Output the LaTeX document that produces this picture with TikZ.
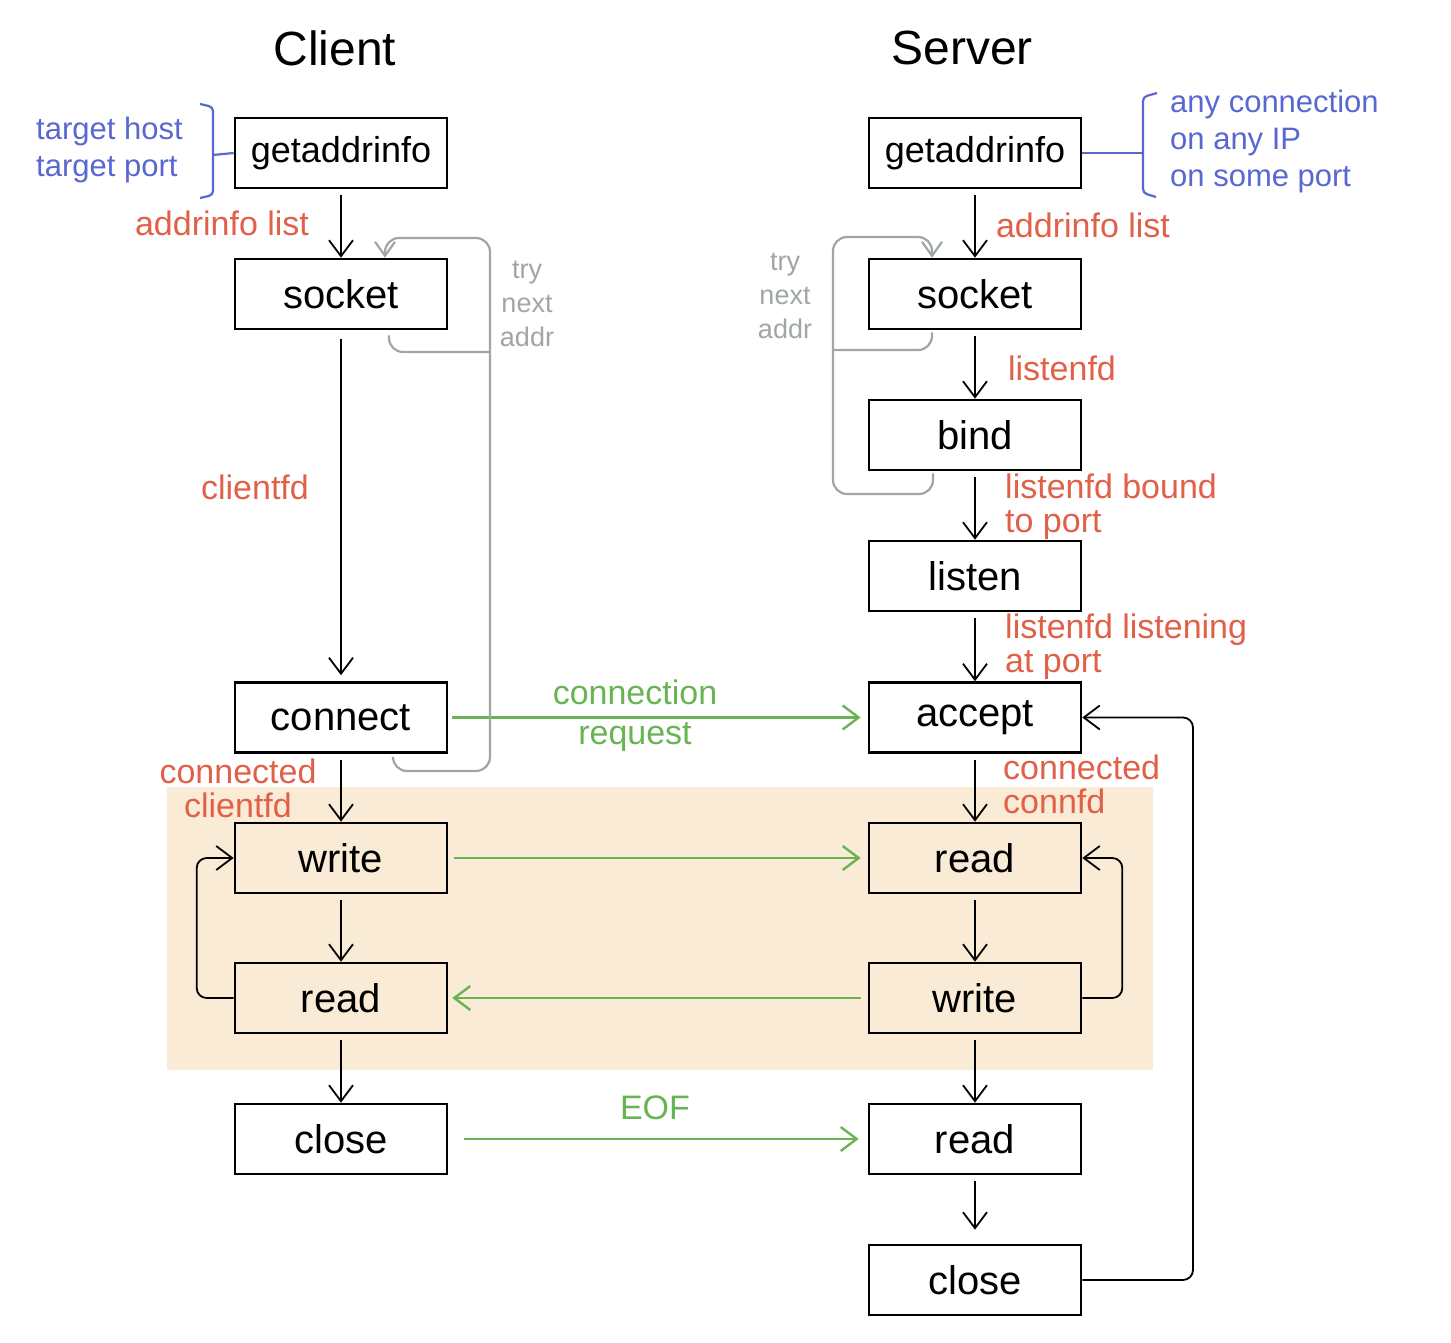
\documentclass[tikz,border=0pt]{standalone}
\usepackage{fontspec}
\setmainfont{Liberation Sans}
\usetikzlibrary{arrows.meta}
\definecolor{hred}{RGB}{224,96,72}
\definecolor{hblue}{RGB}{88,104,208}
\definecolor{hgreen}{RGB}{104,180,84}
\definecolor{hgray}{RGB}{160,165,168}
\definecolor{peach}{RGB}{250,235,214}
\begin{document}
\begin{tikzpicture}[x=1pt,y=-1pt,
  fbox/.style={draw=black, line width=2.6pt, minimum width=212pt, minimum height=70pt, inner sep=0pt, font=\fontsize{40}{40}\selectfont},
  tip/.style={-{Straight Barb[length=16pt,width=24pt,line width=1.8pt]}},
  arr/.style={draw=black, line width=1.8pt, tip, shorten <=6pt},
  loop/.style={draw=black, line width=1.8pt, tip, rounded corners=10pt},
  garr/.style={draw=hgreen, line width=2.4pt, -{Straight Barb[length=16pt,width=24pt,line width=2.4pt]}},
  grayloop/.style={draw=hgray, line width=2.2pt, rounded corners=14pt},
  title/.style={font=\fontsize{48}{48}\selectfont},
  redlab/.style={text=hred, font=\fontsize{34}{34}\selectfont, inner sep=0pt},
  bluelab/.style={text=hblue, font=\fontsize{31}{37}\selectfont, inner sep=0pt, align=left},
  graylab/.style={text=hgray, font=\fontsize{27}{34}\selectfont, inner sep=0pt, align=center},
  greenlab/.style={text=hgreen, font=\fontsize{34}{34}\selectfont, inner sep=0pt, align=center},
  bracket/.style={draw=hblue, line width=2.2pt, rounded corners=4pt}
]
\useasboundingbox (0,0) rectangle (1451,1343);
\fill[peach] (167,787) rectangle (1153,1070);

% titles
\node[title] (tclient) at (335,48) {Client};
\node[title] (tserver) at (962,48) {Server};

% client boxes
\node[fbox, font=\fontsize{36}{36}\selectfont] (cga) at (341,153) {getaddrinfo};
\node[fbox] (cso) at (341,294) {socket};
\node[fbox] (ccon) at (341,717.5) {connect};
\node[fbox] (cwr) at (341,858) {write};
\node[fbox] (crd) at (341,998) {read};
\node[fbox] (ccl) at (341,1139) {close};

% server boxes
\node[fbox, font=\fontsize{36}{36}\selectfont] (sga) at (975,153) {getaddrinfo};
\node[fbox] (sso) at (975,294) {socket};
\node[fbox] (sbind) at (975,435) {bind};
\node[fbox] (slis) at (975,576) {listen};
\node[fbox] (sacc) at (975,717.5) {accept};
\node[fbox] (srd) at (975,858) {read};
\node[fbox] (swr) at (975,998) {write};
\node[fbox] (srd2) at (975,1139) {read};
\node[fbox] (scl) at (975,1280) {close};

% client vertical arrows
\draw[arr] (cga) -- (cso);
\draw[arr, shorten <=9pt, shorten >=6pt] (cso) -- (ccon);
\draw[arr] (ccon) -- (cwr);
\draw[arr] (cwr) -- (crd);
\draw[arr] (crd) -- (ccl);

% server vertical arrows
\draw[arr] (sga) -- (sso);
\draw[arr] (sso) -- (sbind);
\draw[arr] (sbind) -- (slis);
\draw[arr] (slis) -- (sacc);
\draw[arr] (sacc) -- (srd);
\draw[arr] (srd) -- (swr);
\draw[arr] (swr) -- (srd2);
\draw[arr, shorten >=14pt] (srd2) -- (scl);

% loops
\draw[loop] (crd.west) -- ++(-37,0) |- (cwr.west);
\draw[loop] (swr.east) -- ++(40,0) |- (srd.east);
\coordinate (rloop) at (1193,717.5);
\draw[loop] (scl.east) -| (rloop) -- (sacc.east);

% green arrows
\draw[garr, shorten <=4pt, shorten >=7pt] (ccon) -- (sacc);
\draw[garr, shorten <=6pt, shorten >=7pt] (cwr) -- (srd);
\draw[garr, shorten <=7pt, shorten >=4pt] (swr) -- (crd);
\draw[garr, shorten <=16pt, shorten >=9pt] (ccl) -- (srd2);
\node[greenlab, font=\fontsize{34}{40}\selectfont] (lconn) at (635,716) {connection\\request};
\node[greenlab] (leof) at (655,1108) {EOF};

% gray try-next-addr loops (client)
\coordinate (cg1) at (490,352);
\coordinate (cg2) at (490,771);
\coordinate (cg3) at (490,238);
\draw[grayloop] ([xshift=48pt,yshift=-5pt]cso.south) |- (cg1);
\draw[grayloop, -{Straight Barb[length=14pt,width=20pt,line width=2.2pt]}] ([xshift=52pt,yshift=-6pt]ccon.south) |- (cg2) -- (cg3) -| ([xshift=44pt]cso.north);
\node[graylab] (ctry) at (527,304) {try\\next\\addr};

% gray loops (server)
\coordinate (sg1) at (833,350);
\coordinate (sg2) at (833,494);
\coordinate (sg3) at (833,237);
\draw[grayloop] ([xshift=-43pt,yshift=-2pt]sso.south) |- (sg1);
\draw[grayloop, -{Straight Barb[length=14pt,width=20pt,line width=2.2pt]}] ([xshift=-42pt,yshift=-2pt]sbind.south) |- (sg2) -- (sg3) -| ([xshift=-43pt]sso.north);
\node[graylab] (stry) at (785,296) {try\\next\\addr};

% red labels
\node[redlab] (cai) at (222,223) {addrinfo list};
\node[redlab] (sai) at (1083,225) {addrinfo list};
\node[redlab] (cfd) at (255,487) {clientfd};
\node[redlab] (lfd) at (1062,368) {listenfd};
\node[redlab, anchor=west, align=left] (lbound) at (1005,507) {listenfd bound\\to port};
\node[redlab, anchor=west, align=left] (llisten) at (1005,647) {listenfd listening\\at port};
\node[redlab, align=center] (lcc) at (238,788) {connected\\clientfd};
\node[redlab, anchor=west, align=left] (lsc) at (1003,784) {connected\\connfd};

% blue annotations
\node[bluelab, anchor=west] (ctarget) at (36,150) {target host\\target port};
\draw[bracket] (200,104) -- (213,107) -- (213,195) -- (200,198);
\coordinate (cbr) at (213,155);
\draw[draw=hblue, line width=2.2pt] (cbr) -- (cga.west);
\draw[bracket] (1157,93) -- (1143,97) -- (1143,193) -- (1156,197);
\coordinate (sbr) at (1143,153);
\draw[draw=hblue, line width=2.2pt] (sga.east) -- (sbr);
\node[bluelab, anchor=west] (sany) at (1170,141) {any connection\\on any IP\\on some port};
\end{tikzpicture}
\end{document}
